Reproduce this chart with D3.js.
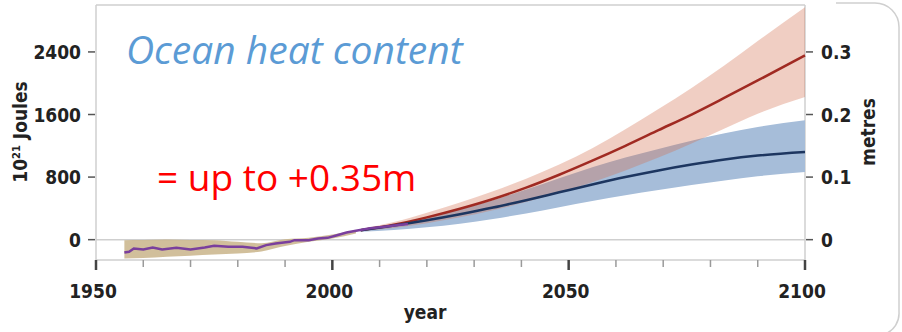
<!DOCTYPE html>
<html>
<head>
<meta charset="utf-8">
<script src="https://cdn.jsdelivr.net/npm/d3@7"></script>
<style>
  html, body { margin: 0; padding: 0; background: #fff; }
  svg { display: block; }
  .ax { font-family: "DejaVu Sans Condensed", "DejaVu Sans", sans-serif; font-weight: bold; font-size: 19px; fill: #222; }
</style>
</head>
<body>
<svg id="chart" width="902" height="332"></svg>
<script>
// Observed ocean heat content (10^21 J) with its uncertainty band
const histYears = [1956, 1957, 1958, 1960, 1962, 1964, 1967, 1970, 1973, 1975, 1978, 1981, 1984, 1986, 1988, 1991, 1992, 1995, 1997, 1999, 2001, 2003, 2005, 2008, 2011, 2014, 2016];
const histValues = [-165, -155, -112, -125, -100, -125, -105, -125, -100, -79, -92, -92, -112, -70, -49, -28, -6, -6, 15, 23, 57, 92, 115, 145, 165, 188, 200];

const bandYears = [1956, 1960, 1965, 1970, 1975, 1980, 1985, 1990, 1995, 2000, 2005];
const bandLow   = [-240, -235, -219, -205, -189, -177, -150, -80, -28, 15, 79];
const bandHigh  = [-6, -5, 3, -4, -6, -28, -45, 5, 23, 66, 121];

// Projections (10^21 J): higher and lower emission scenarios
const projYears = [2006, 2013, 2020, 2027, 2034, 2041, 2048, 2055, 2062, 2069, 2076, 2083, 2090, 2100];
const highMean  = [121, 190, 285, 395, 520, 665, 830, 1010, 1200, 1400, 1600, 1815, 2035, 2355];
const highUpper = [135, 225, 345, 475, 620, 780, 960, 1170, 1410, 1670, 1940, 2230, 2540, 2972];
const highLower = [110, 150, 210, 285, 375, 480, 600, 735, 885, 1050, 1230, 1420, 1610, 1823];
const lowMean   = [121, 180, 248, 325, 410, 505, 605, 705, 800, 885, 960, 1025, 1075, 1121];
const lowUpper  = [125, 188, 280, 385, 505, 640, 785, 925, 1050, 1160, 1265, 1360, 1440, 1526];
const lowLower  = [100, 125, 158, 205, 265, 335, 415, 495, 568, 635, 698, 757, 810, 866];

// Axis ticks
const leftTicks = [0, 800, 1600, 2400];
const rightTicks = [0, 0.1, 0.2, 0.3];
const xMajorTicks = [1950, 2000, 2050, 2100];
const xMinorTicks = d3.range(1960, 2100, 10).filter(d => d % 50 !== 0);

const svg = d3.select("#chart");
const L = 96, R = 805, T = 5, B = 260;

const x = d3.scaleLinear().domain([1950, 2100]).range([L, R]);
const y = d3.scaleLinear().domain([-260, 3000]).range([B, T]);
// one metre of sea level per 8000 x 10^21 J
const yR = d3.scaleLinear().domain([-260 / 8000, 3000 / 8000]).range([B, T]);

const zip = (yrs, lo, hi) => yrs.map((yr, i) => ({ yr, lo: lo[i], hi: hi[i] }));
const zipLine = (yrs, v) => yrs.map((yr, i) => ({ yr, v: v[i] }));

const area = d3.area().x(d => x(d.yr)).y0(d => y(d.lo)).y1(d => y(d.hi)).curve(d3.curveMonotoneX);
const smooth = d3.line().x(d => x(d.yr)).y(d => y(d.v)).curve(d3.curveMonotoneX);
const jagged = d3.line().x(d => x(d.yr)).y(d => y(d.v)).curve(d3.curveLinear);

// frame
const frame = svg.append("g").attr("stroke", "#cfcfcf").attr("stroke-width", 1.5).attr("fill", "none");
frame.append("line").attr("x1", L).attr("x2", R).attr("y1", T).attr("y2", T);
frame.append("line").attr("x1", L).attr("x2", L).attr("y1", T).attr("y2", B);
frame.append("line").attr("x1", R).attr("x2", R).attr("y1", T).attr("y2", B);
frame.append("line").attr("x1", L).attr("x2", R).attr("y1", B).attr("y2", B);
frame.append("line").attr("x1", L).attr("x2", R).attr("y1", y(0)).attr("y2", y(0));
// rounded panel border on the right
frame.append("path").attr("d", "M836,3 H875 A24,24 0 0 1 899,27 V312 A22,22 0 0 1 885,334");

// bands
svg.append("path").datum(zip(bandYears, bandLow, bandHigh)).attr("d", area).attr("fill", "#c9b48a").attr("opacity", 0.85);
svg.append("path").datum(zip(projYears, lowLower, lowUpper)).attr("d", area).attr("fill", "#a6bdd9");
svg.append("path").datum(zip(projYears, highLower, highUpper)).attr("d", area).attr("fill", "#d4704f").attr("opacity", 0.34);

// central lines
svg.append("path").datum(zipLine(projYears, highMean)).attr("d", smooth).attr("fill", "none").attr("stroke", "#a02a22").attr("stroke-width", 2.5);
svg.append("path").datum(zipLine(projYears, lowMean)).attr("d", smooth).attr("fill", "none").attr("stroke", "#1d3660").attr("stroke-width", 2.5);
svg.append("path").datum(zipLine(histYears, histValues)).attr("d", jagged).attr("fill", "none").attr("stroke", "#7a3f9d").attr("stroke-width", 2.5);

// left axis
const gl = svg.append("g");
gl.selectAll("line").data(leftTicks).join("line")
  .attr("x1", L - 8).attr("x2", L - 1).attr("y1", d => y(d)).attr("y2", d => y(d))
  .attr("stroke", "#555").attr("stroke-width", 1.5);
gl.selectAll("text").data(leftTicks).join("text").attr("class", "ax")
  .attr("x", 81).attr("y", d => y(d) + 7).attr("text-anchor", "end").text(d => d);

// right axis
const gr = svg.append("g");
gr.selectAll("line").data(rightTicks).join("line")
  .attr("x1", R + 1).attr("x2", R + 8).attr("y1", d => yR(d)).attr("y2", d => yR(d))
  .attr("stroke", "#555").attr("stroke-width", 1.5);
gr.selectAll("text").data(rightTicks).join("text").attr("class", "ax")
  .attr("x", 821).attr("y", d => yR(d) + 7).attr("text-anchor", "start").text(d => d === 0 ? "0" : d3.format(".1f")(d));

// bottom axis
const gb = svg.append("g");
gb.selectAll("line.minor").data(xMinorTicks).join("line").attr("class", "minor")
  .attr("x1", d => x(d)).attr("x2", d => x(d)).attr("y1", B).attr("y2", B + 7)
  .attr("stroke", "#9a9a9a").attr("stroke-width", 1.5);
gb.selectAll("line.major").data(xMajorTicks).join("line").attr("class", "major")
  .attr("x1", d => x(d)).attr("x2", d => x(d)).attr("y1", B).attr("y2", B + 10)
  .attr("stroke", "#444").attr("stroke-width", 2.5);
gb.selectAll("text").data(xMajorTicks).join("text").attr("class", "ax")
  .attr("x", d => x(d) - 3).attr("y", 298).attr("text-anchor", "middle").text(d => d);

// axis titles
svg.append("text").attr("class", "ax").attr("x", 425).attr("y", 319).attr("text-anchor", "middle").text("year");
const jl = svg.append("text").attr("class", "ax").attr("text-anchor", "middle")
  .attr("transform", "translate(27,132) rotate(-90)");
jl.append("tspan").text("10");
jl.append("tspan").attr("font-size", "11px").attr("dy", -7).text("21");
jl.append("tspan").attr("dy", 7).text(" Joules");
svg.append("text").attr("class", "ax").attr("text-anchor", "middle")
  .attr("transform", "translate(875,132) rotate(-90)").text("metres");

// annotations
svg.append("text").attr("x", 126).attr("y", 64)
  .attr("font-family", "'Open Sans', sans-serif").attr("font-style", "italic").attr("font-size", 39)
  .attr("fill", "#5b9bd5").text("Ocean heat content");
svg.append("text").attr("x", 157).attr("y", 191)
  .attr("font-family", "'Open Sans', sans-serif").attr("font-size", 37)
  .attr("fill", "#ff0000").text("= up to +0.35m");
</script>
</body>
</html>
